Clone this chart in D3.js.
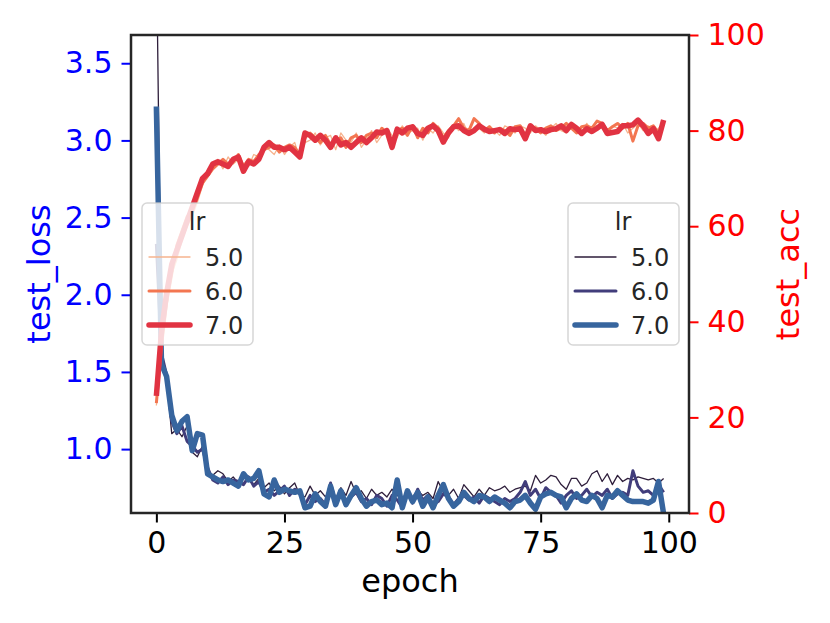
<!DOCTYPE html>
<html>
<head>
<meta charset="utf-8">
<script src="https://cdn.jsdelivr.net/npm/d3@7"></script>
<style>
  body { margin: 0; background: #fff; }
  svg { display: block; }
  svg text { font-family: "DejaVu Sans", sans-serif; }
</style>
</head>
<body>
<div id="chart"></div>
<script>
const lrs = ["5.0", "6.0", "7.0"]
const epochs = d3.range(100)

const loss5 = [4.3, 1.60, 1.45, 1.10, 1.13, 1.08, 1.15, 0.98, 0.95, 1.02,
  0.85, 0.83, 0.86, 0.84, 0.79, 0.82, 0.78, 0.85, 0.80, 0.77,
  0.81, 0.75, 0.78, 0.73, 0.76, 0.71, 0.75, 0.78, 0.70, 0.69,
  0.76, 0.70, 0.73, 0.69, 0.74, 0.68, 0.75, 0.70, 0.79, 0.71,
  0.73, 0.68, 0.74, 0.70, 0.72, 0.69, 0.74, 0.70, 0.68, 0.72,
  0.69, 0.73, 0.70, 0.72, 0.68, 0.79, 0.72, 0.70, 0.74, 0.68,
  0.77, 0.73, 0.69, 0.74, 0.70, 0.75, 0.73, 0.74, 0.76, 0.72,
  0.74, 0.75, 0.76, 0.73, 0.83, 0.78, 0.80, 0.83, 0.82, 0.77,
  0.74, 0.81, 0.81, 0.76, 0.78, 0.84, 0.86, 0.79, 0.84, 0.77,
  0.83, 0.79, 0.81, 0.80, 0.82, 0.81, 0.80, 0.81, 0.78, 0.81]
const loss6 = [2.33, 1.62, 1.48, 1.18, 1.10, 1.15, 1.05, 1.02, 0.98, 1.00,
  0.88, 0.80, 0.78, 0.82, 0.77, 0.80, 0.79, 0.77, 0.82, 0.76,
  0.79, 0.72, 0.74, 0.70, 0.73, 0.76, 0.70, 0.74, 0.71, 0.64,
  0.70, 0.66, 0.68, 0.64, 0.78, 0.66, 0.72, 0.66, 0.69, 0.72,
  0.66, 0.68, 0.64, 0.70, 0.68, 0.63, 0.70, 0.67, 0.62, 0.73,
  0.65, 0.74, 0.67, 0.70, 0.64, 0.66, 0.71, 0.69, 0.64, 0.68,
  0.70, 0.67, 0.69, 0.65, 0.70, 0.68, 0.66, 0.64, 0.68, 0.66,
  0.68, 0.72, 0.79, 0.70, 0.74, 0.68, 0.75, 0.72, 0.70, 0.65,
  0.70, 0.73, 0.68, 0.70, 0.74, 0.69, 0.72, 0.70, 0.74, 0.68,
  0.71, 0.72, 0.70, 0.86, 0.76, 0.72, 0.73, 0.70, 0.77, 0.72]
const loss7 = [3.22, 1.55, 1.47, 1.22, 1.12, 1.18, 1.21, 0.99, 1.10, 1.09,
  0.84, 0.82, 0.80, 0.79, 0.80, 0.78, 0.76, 0.84, 0.80, 0.81,
  0.86, 0.71, 0.69, 0.80, 0.72, 0.74, 0.73, 0.72, 0.73, 0.62,
  0.63, 0.71, 0.66, 0.63, 0.76, 0.64, 0.73, 0.64, 0.70, 0.75,
  0.68, 0.63, 0.66, 0.67, 0.64, 0.65, 0.62, 0.80, 0.62, 0.73,
  0.66, 0.72, 0.63, 0.69, 0.62, 0.70, 0.77, 0.68, 0.63, 0.66,
  0.72, 0.68, 0.66, 0.70, 0.69, 0.66, 0.69, 0.67, 0.65, 0.62,
  0.66, 0.67, 0.70, 0.65, 0.61, 0.69, 0.71, 0.72, 0.70, 0.69,
  0.62, 0.68, 0.71, 0.67, 0.66, 0.70, 0.68, 0.62, 0.70, 0.69,
  0.73, 0.70, 0.67, 0.66, 0.66, 0.66, 0.65, 0.67, 0.79, 0.58]

const acc5 = [22.5, 36, 43, 50, 53, 57, 60, 62, 65, 68.5,
  71, 72.5, 74, 72, 74.5, 73, 74, 73, 72.5, 75,
  74.5, 77, 76, 75, 77, 75, 76.5, 77.5, 74, 77.5,
  78, 79.5, 77, 78.5, 79, 76, 79.5, 78, 77.5, 79.5,
  76.5, 78, 80, 77.5, 79, 80.5, 79, 78.5, 81, 79.5,
  80, 80.5, 78, 80.5, 79.5, 81, 79.5, 78.5, 81, 80,
  81.5, 79, 80.5, 80.5, 79.5, 81, 80, 79, 81, 80.5,
  79.5, 81, 80.5, 79.5, 81, 80, 79, 80.5, 81.5, 80,
  79.5, 81, 80.5, 79.5, 81.5, 80, 81, 80.5, 79, 81,
  80.5, 81.5, 79.5, 80.5, 81.5, 80, 81, 79.5, 80.5, 81]
const acc6 = [23, 35, 44, 50, 56, 59, 62, 63, 66, 69,
  70.5, 72, 73, 74, 73, 73.5, 75, 72.5, 74, 73.5,
  75, 76, 76.5, 77, 75.5, 76.5, 77, 76.5, 75, 78.5,
  79.5, 78.5, 77.5, 79, 77, 78, 78.5, 76.5, 78.5, 79,
  77.5, 79, 79.5, 78.5, 80.5, 79.5, 78, 80, 80.5, 79,
  81, 78.5, 80.5, 79.5, 81.5, 80.5, 78.5, 80, 81, 82.5,
  80.5, 80, 82.5, 81.5, 80, 80.8, 79.5, 80.5, 80, 79,
  80.8, 81, 79, 80.5, 80.5, 79.5, 80.5, 81, 80, 80.5,
  81.5, 80.5, 79.5, 80.8, 81, 80.5, 82, 81.5, 80, 80.8,
  81.5, 80.5, 81.5, 77.8, 81, 81.5, 80.5, 81, 79.5, 81.5]
const acc7 = [24.5, 38, 46, 52, 55, 58, 61, 64, 67, 70,
  71, 73, 73.5, 73, 72.5, 74, 74.5, 71.5, 73.5, 73,
  74, 76.5, 77.5, 76.5, 76.5, 76, 76.5, 75.5, 74.5, 79.5,
  79, 78, 79, 78, 76.5, 78.5, 77, 77.5, 76.5, 77.5,
  78.5, 77.5, 78.5, 79.7, 79.5, 80, 76.5, 80.3, 79.5, 80.5,
  80.8, 79.4, 79, 80.5, 81, 80, 77.6, 79.5, 80.8, 81,
  80, 79.4, 80, 81, 80.3, 79.8, 80, 80.2, 79.4, 80.4,
  80.2, 80.4, 78.3, 81, 80, 80.2, 79.8, 80.2, 80.4, 81,
  80, 81.3, 80.5, 79.4, 80.4, 79.8, 80.5, 81.3, 79.4, 79.6,
  79.8, 81, 81, 81.2, 82.2, 81, 79.4, 80.4, 78.3, 82.2]

const lossTicks = [1.0, 1.5, 2.0, 2.5, 3.0, 3.5]
const accTicks = [0, 20, 40, 60, 80, 100]
const epochTicks = [0, 25, 50, 75, 100]

const width = 830, height = 623
const plotLeft = 131, plotRight = 689, plotTop = 35, plotBottom = 513
const lossSeries = [loss5, loss6, loss7]
const accSeries = [acc5, acc6, acc7]
const lossColors = ["#2e1e3b", "#413d7b", "#37659e"]
const accColors = ["#f6b48f", "#f37651", "#e13342"]
const widths = [1.3, 3, 5.5]

const x = d3.scaleLinear().domain([-4.95, 103.95]).range([plotLeft, plotRight])
const yLoss = d3.scaleLinear().domain([0.586, 3.683]).range([plotBottom, plotTop])
const yAcc = d3.scaleLinear().domain([0, 100]).range([plotBottom, plotTop])

const svg = d3.select("#chart")
              .append("svg")
              .attr("width", width)
              .attr("height", height)

svg.append("clipPath")
   .attr("id", "plot-clip")
   .append("rect")
   .attr("x", plotLeft).attr("y", plotTop)
   .attr("width", plotRight - plotLeft).attr("height", plotBottom - plotTop)

const styleAxis = (g, color) => {
  g.select(".domain").remove()
  g.selectAll(".tick line").attr("stroke", color).attr("stroke-width", 2)
  g.selectAll(".tick text").attr("fill", color).style("font-size", "30px")
}

svg.append("g")
   .attr("transform", "translate(0," + plotBottom + ")")
   .call(d3.axisBottom(x).tickValues(epochTicks).tickSize(9.5).tickPadding(9))
   .call(g => styleAxis(g, "#000"))
svg.append("g")
   .attr("transform", "translate(" + plotLeft + ",0)")
   .call(d3.axisLeft(yLoss).tickValues(lossTicks).tickFormat(d3.format(".1f")).tickSize(9.5).tickPadding(9))
   .call(g => styleAxis(g, "#0000ff"))
svg.append("g")
   .attr("transform", "translate(" + plotRight + ",0)")
   .call(d3.axisRight(yAcc).tickValues(accTicks).tickSize(9.5).tickPadding(9))
   .call(g => styleAxis(g, "#ff0000"))

// axis titles
svg.append("text")
   .attr("x", (plotLeft + plotRight) / 2).attr("y", 592)
   .attr("text-anchor", "middle")
   .style("font-size", "32px").attr("fill", "#000")
   .text("epoch")
svg.append("text")
   .attr("transform", "translate(50," + (plotTop + plotBottom) / 2 + ") rotate(-90)")
   .attr("text-anchor", "middle")
   .style("font-size", "32px").attr("fill", "#0000ff")
   .text("test_loss")
svg.append("text")
   .attr("transform", "translate(799," + (plotTop + plotBottom) / 2 + ") rotate(-90)")
   .attr("text-anchor", "middle")
   .style("font-size", "32px").attr("fill", "#ff0000")
   .text("test_acc")

const drawLines = (series, yScale, colors) => {
  const line = d3.line().x((d, i) => x(epochs[i])).y(d => yScale(d))
  svg.append("g")
     .attr("clip-path", "url(#plot-clip)")
     .selectAll("path")
     .data(series)
     .join("path")
     .attr("d", line)
     .attr("fill", "none")
     .attr("stroke", (d, i) => colors[i])
     .attr("stroke-width", (d, i) => widths[i])
     .attr("stroke-linejoin", "round")
}

const drawLegend = (bx, by, colors) => {
  const g = svg.append("g").attr("transform", "translate(" + bx + "," + by + ")")
  g.append("rect")
   .attr("width", 111).attr("height", 142).attr("rx", 5)
   .attr("fill", "#fff").attr("fill-opacity", 0.8)
   .attr("stroke", "#cccccc").attr("stroke-opacity", 0.8).attr("stroke-width", 1.5)
  g.append("text")
   .attr("x", 55).attr("y", 27)
   .attr("text-anchor", "middle")
   .style("font-size", "24px").attr("fill", "#262626")
   .text("lr")
  lrs.forEach((lr, i) => {
    const cy = 54 + i * 34
    g.append("line")
     .attr("x1", 7).attr("x2", 48).attr("y1", cy).attr("y2", cy)
     .attr("stroke", colors[i]).attr("stroke-width", widths[i])
     .attr("stroke-linecap", "round")
    g.append("text")
     .attr("x", 63).attr("y", cy + 8.5)
     .style("font-size", "24px").attr("fill", "#262626")
     .text(lr)
  })
}

drawLines(lossSeries, yLoss, lossColors)
drawLegend(568, 203, lossColors)
drawLines(accSeries, yAcc, accColors)
drawLegend(142, 203, accColors)

svg.append("rect")
   .attr("x", plotLeft).attr("y", plotTop)
   .attr("width", plotRight - plotLeft).attr("height", plotBottom - plotTop)
   .attr("fill", "none").attr("stroke", "#262626").attr("stroke-width", 2.5)
</script>
</body>
</html>
